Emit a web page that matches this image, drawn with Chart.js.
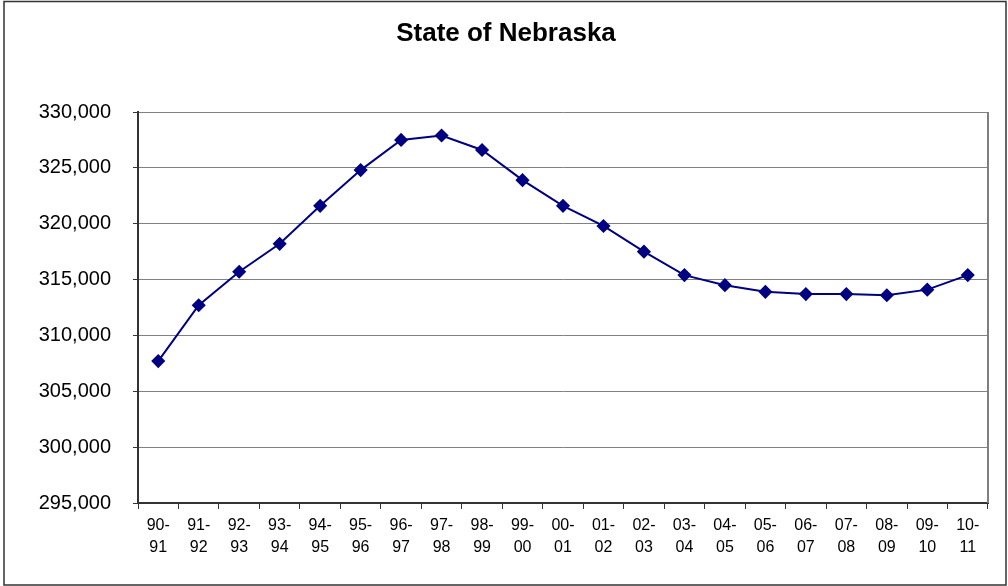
<!DOCTYPE html>
<html>
<head>
<meta charset="utf-8">
<script src="https://cdn.jsdelivr.net/npm/chart.js@4/dist/chart.umd.min.js"></script>
<style>
  html, body { margin: 0; padding: 0; background: #fff; }
  #wrap { width: 1008px; height: 586px; position: relative; }
</style>
</head>
<body>
<div id="wrap"><canvas id="chart"></canvas></div>
<script>
const chartTitle = "State of Nebraska";
const categories = ["90-91","91-92","92-93","93-94","94-95","95-96","96-97","97-98","98-99","99-00",
  "00-01","01-02","02-03","03-04","04-05","05-06","06-07","07-08","08-09","09-10","10-11"];
const enrollment = [307700, 312700, 315700, 318200, 321600, 324800, 327500, 327900, 326600, 323900,
  321600, 319800, 317500, 315400, 314500, 313900, 313700, 313700, 313600, 314100, 315400];
const yMin = 295000, yMax = 330000, yStep = 5000;

// "90-91" -> ["90-", "91"] so each label sits on two lines
const tickLabels = categories.map(c => { const p = c.split("-"); return [p[0] + "-", p[1]]; });

const FONT = 'Arial, "Liberation Sans", sans-serif';

const frame = {
  id: "frame",
  beforeDatasetsDraw(chart) {
    const { ctx, chartArea: a } = chart;
    ctx.save();
    ctx.strokeStyle = "#808080";
    ctx.lineWidth = 2;
    ctx.beginPath();
    ctx.moveTo(a.right, a.top);
    ctx.lineTo(a.right, a.bottom);
    ctx.stroke();
    ctx.restore();
  },
  afterDraw(chart) {
    const ctx = chart.ctx;
    ctx.save();
    ctx.strokeStyle = "#333";
    ctx.lineWidth = 1.5;
    ctx.strokeRect(4, 1.5, 1002, 583.5);
    ctx.restore();
  }
};

new Chart(document.getElementById("chart"), {
  type: "line",
  data: {
    labels: tickLabels,
    datasets: [{
      data: enrollment,
      borderColor: "#000080",
      borderWidth: 2,
      backgroundColor: "#000080",
      pointStyle: "rectRot",
      pointRadius: 6,
      pointBorderWidth: 1.5,
      pointBackgroundColor: "#000080",
      pointBorderColor: "#000080",
      tension: 0
    }]
  },
  options: {
    responsive: true,
    maintainAspectRatio: false,
    animation: false,
    layout: { padding: { left: 24, right: 20, top: 0, bottom: 0 } },
    plugins: {
      legend: { display: false },
      tooltip: { enabled: false },
      title: {
        display: true,
        text: chartTitle,
        color: "#000",
        font: { family: FONT, size: 26, weight: "bold" },
        padding: { top: 18, bottom: 62.8 }
      }
    },
    scales: {
      x: {
        offset: true,
        afterFit(scale) { scale.height = 83; },
        border: { color: "#333", width: 2 },
        grid: { drawOnChartArea: false, drawTicks: true, tickLength: 6, tickColor: "#333", offset: true },
        ticks: {
          color: "#000",
          maxRotation: 0,
          autoSkip: false,
          padding: 6,
          font: { family: FONT, size: 16, lineHeight: 1.35 }
        }
      },
      y: {
        min: yMin,
        max: yMax,
        afterFit(scale) { scale.width = 114; },
        border: { color: "#333", width: 2 },
        grid: { color: "#808080", lineWidth: 1, tickLength: 5, tickColor: "#333" },
        ticks: {
          stepSize: yStep,
          color: "#000",
          padding: 22,
          font: { family: FONT, size: 20 },
          callback: v => v.toLocaleString("en-US")
        }
      }
    }
  },
  plugins: [frame]
});
</script>
</body>
</html>
